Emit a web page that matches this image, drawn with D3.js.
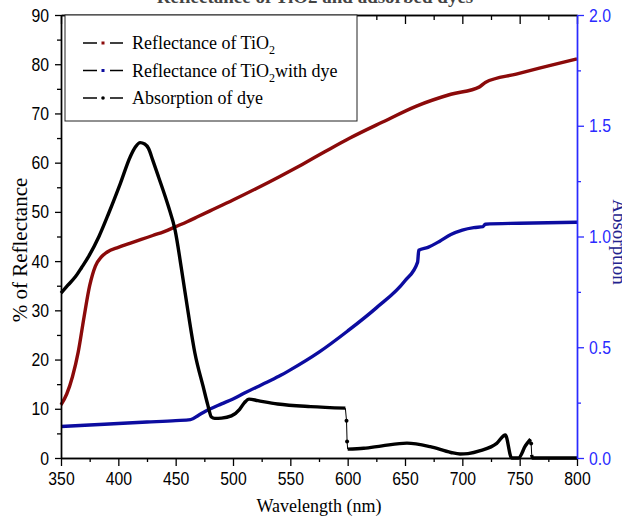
<!DOCTYPE html>
<html>
<head>
<meta charset="utf-8">
<script src="https://cdn.jsdelivr.net/npm/d3@7"></script>
<style>
body{margin:0;background:#fff}
svg{display:block}
.axis text{font-family:"Liberation Sans",Arial,sans-serif;font-size:19px}
.serif{font-family:"Liberation Serif","Times New Roman",serif}
</style>
</head>
<body>
<svg id="chart" width="622" height="517"></svg>
<script>
// axis ticks
const xTicks = [350,400,450,500,550,600,650,700,750,800]
const leftTicks = [0,10,20,30,40,50,60,70,80,90]
const rightTicks = [0,0.5,1,1.5,2]

// Reflectance of TiO2 (%)
const tio2Wl   = [350,355,360,365,370,375,380,385,390,400,410,420,430,440,450,460,470,480,500,520,540,560,580,602,630,660,690,715,720,747,776,800]
const tio2Refl = [10.8,13.0,16.5,21.5,28.5,35.0,39.0,40.8,41.8,42.8,43.6,44.4,45.2,46.0,47.0,48.0,49.1,50.2,52.4,54.7,57.1,59.6,62.2,65.0,68.2,71.5,73.9,75.4,76.3,78.0,79.7,81.1]

// Reflectance of TiO2 with dye (%)
const dyeReflWl = [350,375,400,425,450,463,470,476,490,500,510,525,540,550,575,600,625,650,661,662,670,680,690,700,710,718,720,750,800]
const dyeRefl   = [6.4,6.7,7.0,7.3,7.6,7.8,8.7,9.5,11.0,12.0,13.2,14.9,16.6,17.9,21.5,25.8,30.5,36.0,39.8,42.2,42.8,44.0,45.4,46.3,46.8,47.0,47.5,47.7,47.9]

// Absorption of dye (a.u.)
const dyeAbsWl = [350,356,362.7,368,374,383,391.6,401.8,410.4,415,419,423,426.3,430,435,443.7,449.5,455.2,461,466.8,474,478,481.2,484,490,498.6,505.8,510,514,521.7,539,567.7,598,599,599.5,600,614,630,651.7,672,690,698,705,715.7,730,737.5,743,749,755,759.5,760,760.5,761,800]
const dyeAbs   = [0.744,0.78,0.819,0.86,0.909,0.999,1.105,1.240,1.360,1.405,1.424,1.418,1.398,1.345,1.270,1.135,1.029,0.849,0.653,0.473,0.322,0.24,0.185,0.179,0.180,0.190,0.220,0.250,0.266,0.259,0.244,0.232,0.225,0.168,0.074,0.040,0.044,0.055,0.067,0.051,0.025,0.018,0.020,0.033,0.066,0.104,0.0,0.0,0.055,0.085,0.066,0.014,0.0,0.0]

const svg = d3.select("#chart")
const mLeft = 61, mRight = 577, mTop = 15, mBottom = 458

const x = d3.scaleLinear().domain([350,800]).range([mLeft,mRight])
const yL = d3.scaleLinear().domain([0,90]).range([mBottom,mTop])
const yR = d3.scaleLinear().domain([0,2]).range([mBottom,mTop])

const red = "#8b0a0a", navy = "#0c0ca0", axisBlue = "#2a2aff"

// title (cut off at top of the picture)
svg.append("text").attr("class","serif")
    .attr("x",315).attr("y",3).attr("text-anchor","middle")
    .style("font-size","19px").style("font-weight","bold").style("fill","#444")
    .text("Reflectance of TiO2 and adsorbed dyes")

// curves
const lineL = d3.line().x(d=>x(d[0])).y(d=>yL(d[1])).curve(d3.curveMonotoneX)
const lineR = d3.line().x(d=>x(d[0])).y(d=>yR(d[1])).curve(d3.curveMonotoneX)

svg.append("path").datum(tio2Wl.map((w,i)=>[w,tio2Refl[i]]))
    .attr("d",lineL).attr("fill","none").attr("stroke",red).attr("stroke-width",3.4)
svg.append("path").datum(dyeReflWl.map((w,i)=>[w,dyeRefl[i]]))
    .attr("d",lineL).attr("fill","none").attr("stroke",navy).attr("stroke-width",3.4)

// black curve: steep jumps are thin lines with dots
const dye = dyeAbsWl.map((w,i)=>[w,dyeAbs[i]])
let runs = [], cur = [dye[0]], thin = []
for (let i=1;i<dye.length;i++){
    const a = dye[i-1], b = dye[i]
    if (Math.abs(b[1]-a[1])/(b[0]-a[0]) > 0.036){
        thin.push([a,b])
        if (cur.length>1) runs.push(cur)
        cur = [b]
    } else cur.push(b)
}
if (cur.length>1) runs.push(cur)

runs.forEach(r=>{
    svg.append("path").datum(r).attr("d",lineR)
        .attr("fill","none").attr("stroke","#000").attr("stroke-width",3.4)
})
thin.forEach(s=>{
    svg.append("line").attr("x1",x(s[0][0])).attr("y1",yR(s[0][1]))
        .attr("x2",x(s[1][0])).attr("y2",yR(s[1][1]))
        .attr("stroke","#000").attr("stroke-width",1)
})
const dots = thin.slice(1).filter((s,i)=>thin[i][1]===s[0]).map(s=>s[0])
svg.selectAll(".dot").data(dots).enter().append("circle")
    .attr("cx",d=>x(d[0])).attr("cy",d=>yR(d[1])).attr("r",2).attr("fill","#000")

// axes
function styleAxis(g,color){
    g.attr("class","axis")
    g.select(".domain").attr("stroke",color).attr("stroke-width",1.4)
    g.selectAll(".tick line").attr("stroke",color).attr("stroke-width",1.3)
    g.selectAll(".tick text").attr("fill",color)
        .each(function(){   // narrow figures like the original
            const w = this.getComputedTextLength()
            if (w>0) d3.select(this).attr("textLength",w*0.83).attr("lengthAdjust","spacingAndGlyphs")
        })
}
const minorX = d3.range(375,800,50)

svg.append("g").attr("transform",`translate(0,${mBottom})`)
    .call(d3.axisBottom(x).tickValues(minorX).tickSize(4).tickFormat("").tickSizeOuter(0))
    .call(g=>styleAxis(g,"#000"))
svg.append("g").attr("transform",`translate(0,${mBottom})`)
    .call(d3.axisBottom(x).tickValues(xTicks).tickSize(8).tickPadding(6).tickSizeOuter(0))
    .call(g=>styleAxis(g,"#000"))

svg.append("g").attr("transform",`translate(0,${mTop})`)
    .call(d3.axisTop(x).tickValues(minorX).tickSize(-5).tickFormat("").tickSizeOuter(0))
    .call(g=>styleAxis(g,"#000"))
svg.append("g").attr("transform",`translate(0,${mTop})`)
    .call(d3.axisTop(x).tickValues(xTicks).tickSize(-9).tickFormat("").tickSizeOuter(0))
    .call(g=>styleAxis(g,"#000"))

svg.append("g").attr("transform",`translate(${mLeft},0)`)
    .call(d3.axisLeft(yL).tickValues(d3.range(5,90,10)).tickSize(4).tickFormat("").tickSizeOuter(0))
    .call(g=>styleAxis(g,"#000"))
svg.append("g").attr("transform",`translate(${mLeft},0)`)
    .call(d3.axisLeft(yL).tickValues(leftTicks).tickSize(6).tickPadding(6).tickSizeOuter(0))
    .call(g=>styleAxis(g,"#000"))

svg.append("g").attr("transform",`translate(${mRight},0)`)
    .call(d3.axisRight(yR).tickValues(d3.range(0.25,2,0.5)).tickSize(4).tickFormat("").tickSizeOuter(0))
    .call(g=>styleAxis(g,axisBlue))
svg.append("g").attr("transform",`translate(${mRight},0)`)
    .call(d3.axisRight(yR).tickValues(rightTicks).tickSize(7).tickPadding(5).tickFormat(d3.format(".1f")).tickSizeOuter(0))
    .call(g=>styleAxis(g,axisBlue))

// axis labels
svg.append("text").attr("class","serif")
    .attr("x",(mLeft+mRight)/2).attr("y",512).attr("text-anchor","middle")
    .style("font-size","18px").text("Wavelength (nm)")
svg.append("text").attr("class","serif")
    .attr("transform","translate(27,250) rotate(-90)").attr("text-anchor","middle")
    .style("font-size","21px").text("% of Reflectance")
svg.append("text").attr("class","serif")
    .attr("transform","translate(613,242) rotate(90)").attr("text-anchor","middle")
    .style("font-size","19px").style("fill","#23238e").text("Absorption")

// legend
const legendNames = [["Reflectance of TiO","2",""],["Reflectance of TiO","2","with dye"],["Absorption of dye","",""]]
const legendColors = [red,navy,"#000"]
const lg = svg.append("g")
lg.append("rect").attr("x",65).attr("y",mTop).attr("width",292).attr("height",106)
    .attr("fill","#fff").attr("stroke","#222").attr("stroke-width",1)
legendNames.forEach((n,i)=>{
    const yy = 43 + i*27.5
    lg.append("line").attr("x1",83).attr("x2",97).attr("y1",yy).attr("y2",yy).attr("stroke","#000").attr("stroke-width",1.5)
    lg.append("line").attr("x1",110).attr("x2",123).attr("y1",yy).attr("y2",yy).attr("stroke","#000").attr("stroke-width",1.5)
    if (i<2) lg.append("rect").attr("x",101.5).attr("y",yy-1.5).attr("width",3).attr("height",3).attr("fill",legendColors[i])
    else lg.append("circle").attr("cx",103).attr("cy",yy).attr("r",1.8).attr("fill","#000")
    const t = lg.append("text").attr("class","serif").attr("x",132).attr("y",yy+6).style("font-size","18px")
    t.append("tspan").text(n[0])
    if (n[1]) t.append("tspan").attr("dy",5).style("font-size","12px").text(n[1])
    if (n[2]) t.append("tspan").attr("dy",-5).text(n[2])
})
</script>
</body>
</html>
